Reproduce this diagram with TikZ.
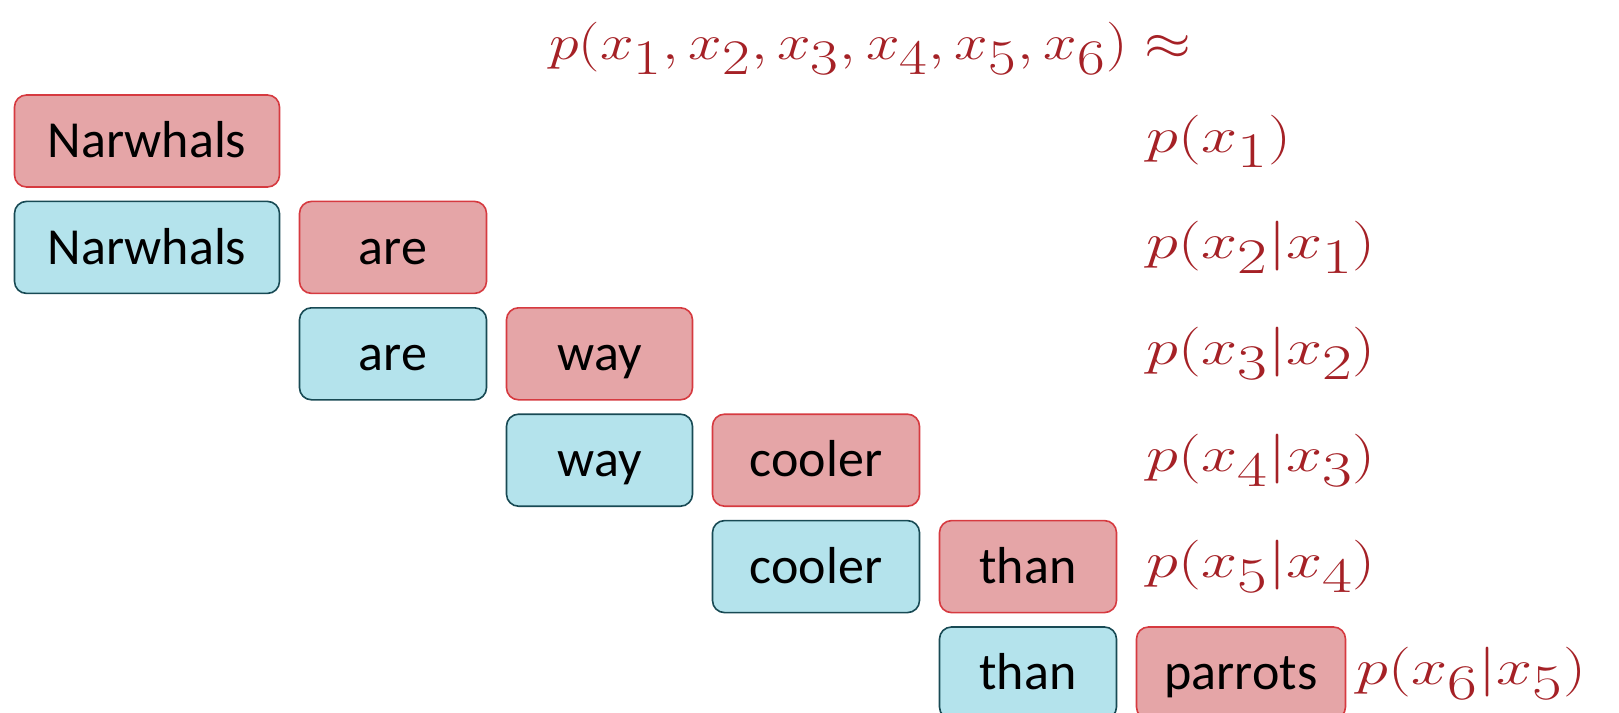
\documentclass[tikz,border=0pt]{standalone}
\usepackage{fontspec}
\setmainfont{Carlito}
\usepackage{amsmath}
\usepackage{graphicx}
\usetikzlibrary{positioning}

\definecolor{tokred}{RGB}{229,165,167}
\definecolor{tokredline}{RGB}{214,58,64}
\definecolor{tokblue}{RGB}{180,227,236}
\definecolor{tokblueline}{RGB}{24,74,84}
\definecolor{probred}{RGB}{165,33,38}

% wide math, a bit like the slide font
\newcommand{\wmath}[2][1.3]{\scalebox{#1}[1]{$#2$}}

\begin{document}
\begin{tikzpicture}[
    node distance=6.4pt and 9.2pt,
    token/.style={rectangle, rounded corners=6pt, line width=0.8pt, minimum height=46pt, inner sep=0pt,
        text height=23pt, text depth=6.3pt, font=\fontsize{26}{30}\selectfont},
    target/.style={token, draw=tokredline, fill=tokred},
    context/.style={token, draw=tokblueline, fill=tokblue},
    prob/.style={text=probred, inner sep=0pt, anchor=west, font=\fontsize{37}{41}\selectfont}
]
    \useasboundingbox (0,0) rectangle (809.5pt,-356.5pt);

    % predicted tokens (red) and the token they are conditioned on (blue)
    \node[target, minimum width=132.5pt] (r1) at (73.5pt,-70.5pt) {Narwhals};
    \node[context, minimum width=132.5pt, below=of r1] (b2) {Narwhals};
    \node[target, minimum width=93.5pt, right=of b2] (r2) {are};
    \node[context, minimum width=93.5pt, below=of r2] (b3) {are};
    \node[target, minimum width=93pt, right=of b3] (r3) {way};
    \node[context, minimum width=93pt, below=of r3] (b4) {way};
    \node[target, minimum width=103.5pt, right=of b4] (r4) {cooler};
    \node[context, minimum width=103.5pt, below=of r4] (b5) {cooler};
    \node[target, minimum width=88.5pt, right=of b5] (r5) {than};
    \node[context, minimum width=88.5pt, below=of r5] (b6) {than};
    \node[target, minimum width=104.5pt, right=of b6] (r6) {parrots};

    % factorised probabilities
    \coordinate (lab) at (573pt,0);
    \node[prob, anchor=center] (joint) at (435pt,-24.3pt) {\wmath[1.21]{p(x_1,x_2,x_3,x_4,x_5,x_6)\approx}};
    \node[prob] (p1) at (r1 -| lab) {\wmath{p(x_1)}};
    \node[prob] (p2) at (r2 -| lab) {\wmath{p(x_2|x_1)}};
    \node[prob] (p3) at (r3 -| lab) {\wmath{p(x_3|x_2)}};
    \node[prob] (p4) at (r4 -| lab) {\wmath{p(x_4|x_3)}};
    \node[prob] (p5) at (r5 -| lab) {\wmath{p(x_5|x_4)}};
    \node[prob, right=5pt of r6] (p6) {\wmath{p(x_6|x_5)}};
\end{tikzpicture}
\end{document}
